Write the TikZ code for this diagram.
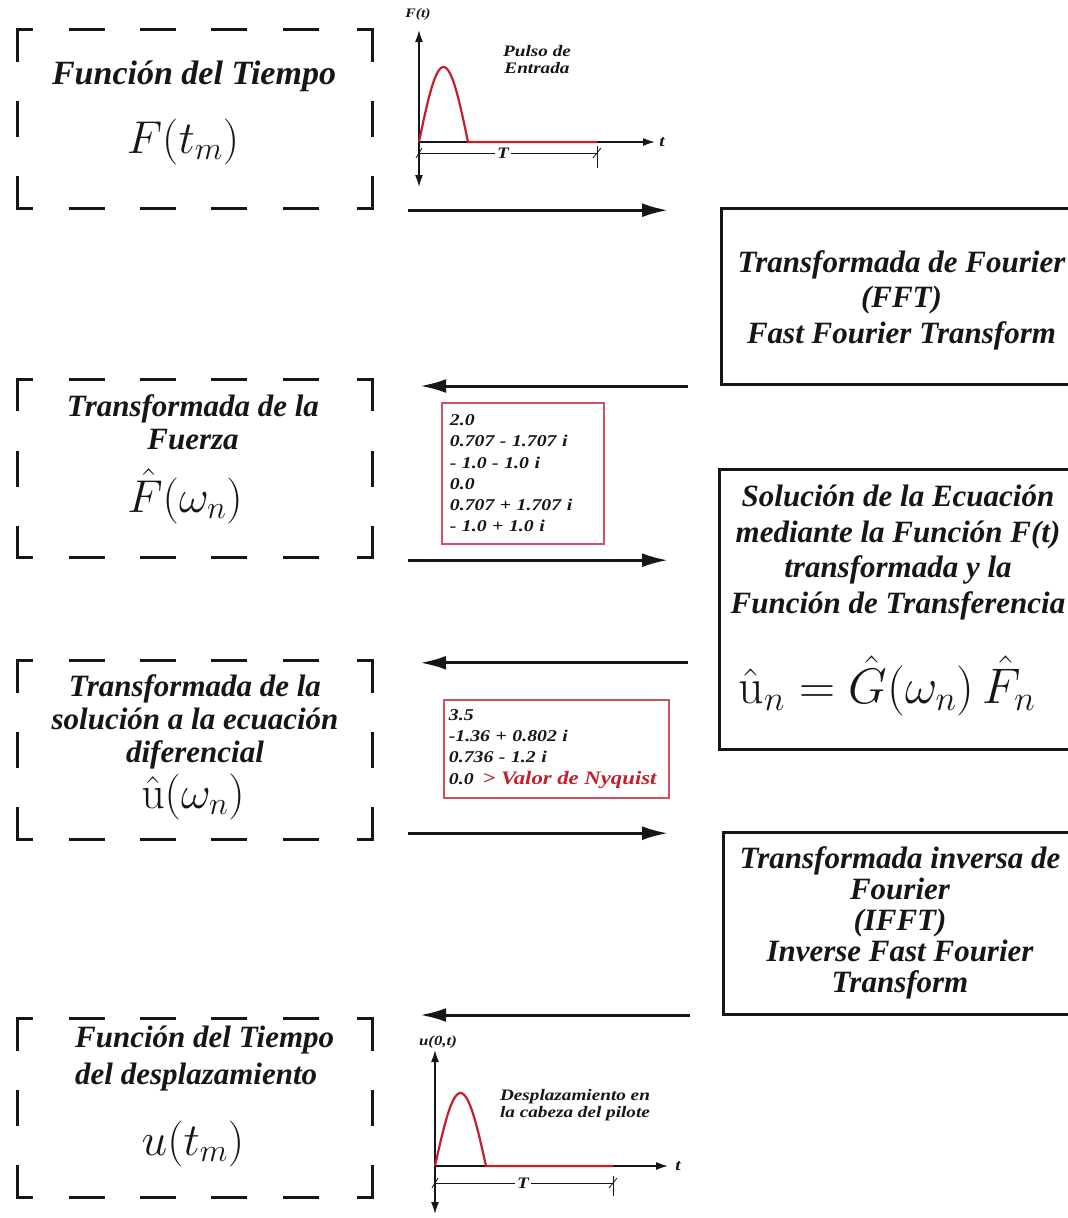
\RequirePackage{fix-cm}
\documentclass[tikz,border=0pt]{standalone}
\usepackage{amsmath}
\usepackage[no-math]{fontspec}
\setmainfont{Liberation Serif}
\newfontfamily\widefont[FakeStretch=1.2]{Liberation Serif}
\usepackage{xcolor}
\usepackage{tikz}
\usetikzlibrary{arrows.meta,positioning,calc}
\definecolor{fdink}{RGB}{22,22,22}
\definecolor{fdred}{RGB}{196,32,44}
\definecolor{fdbox}{RGB}{206,80,98}
\tikzset{
  side/.style={minimum width=354pt, minimum height=178pt, inner sep=0pt},
  brk/.style={draw=fdink, line width=2.8pt},
  proc/.style={draw=fdink, line width=3pt, inner sep=0pt, anchor=north west},
  ltxt/.style={align=center, inner sep=0pt, text=fdink,
    font=\fontsize{31}{33}\selectfont\bfseries\itshape},
  rtxt/.style={align=center, inner sep=0pt, text=fdink,
    font=\fontsize{31}{35.5}\selectfont\bfseries\itshape},
  bigmath/.style={inner sep=0pt, text=fdink, font=\fontsize{46}{50}\selectfont},
  vals/.style={draw=fdbox, line width=1.8pt, align=left, anchor=north west,
    inner xsep=8pt, text=fdink, font=\widefont\fontsize{16.5}{21.2}\selectfont\bfseries\itshape},
  flow/.style={-{Latex[length=26pt,width=14pt]}, draw=fdink, line width=3pt},
  ax/.style={draw=fdink, line width=1.6pt},
  axtip/.style={-{Latex[length=12pt,width=8pt]}},
  bothtip/.style={{Latex[length=12pt,width=8pt]}-{Latex[length=12pt,width=8pt]}},
  pulse/.style={draw=fdred, line width=2.2pt},
  dimline/.style={draw=fdink, line width=0.8pt},
  plotlbl/.style={inner sep=0pt, text=fdink, align=center,
    font=\widefont\fontsize{16}{17}\selectfont\bfseries\itshape}
}
\newcommand{\dashframe}[1]{%
  \draw[brk] ($(#1.north west)+(0,-32)$) -- (#1.north west) -- ++(15,0);
  \draw[brk] ($(#1.north east)+(-15,0)$) -- (#1.north east) -- ++(0,-32);
  \draw[brk] ($(#1.south west)+(0,32)$) -- (#1.south west) -- ++(15,0);
  \draw[brk] ($(#1.south east)+(-15,0)$) -- (#1.south east) -- ++(0,32);
  \draw[brk] ($(#1.west)+(0,-18)$) -- ++(0,36);
  \draw[brk] ($(#1.east)+(0,-18)$) -- ++(0,36);
  \foreach \f in {0.195,0.395,0.595,0.8}{
    \draw[brk] ($(#1.north west)!\f!(#1.north east)+(-18,0)$) -- ++(36,0);
    \draw[brk] ($(#1.south west)!\f!(#1.south east)+(-18,0)$) -- ++(36,0);
  }%
}

\begin{document}
\begin{tikzpicture}[x=1pt, y=1pt]
  \fill[white] (0,0) rectangle (1068,-1218);
  \useasboundingbox (0,0) rectangle (1068,-1218);

  % left column
  \node[side] (ft) at (195,-119) {};
  \node[side] (ff) at (195,-468.5) {};
  \node[side] (uw) at (195,-750) {};
  \node[side] (ut) at (195,-1108) {};
  \foreach \b in {ft,ff,uw,ut}{\dashframe{\b}}

  \node[ltxt, anchor=north, font=\fontsize{34}{36}\selectfont\bfseries\itshape] (ftT) at (194,-61) {Función del Tiempo};
  \node[bigmath, anchor=base] (ftM) at (183,-153) {$F(t_m)$};
  \node[ltxt, anchor=north] (ffT) at (193,-394) {Transformada de la\\Fuerza};
  \node[bigmath, anchor=base] (ffM) at (185,-512) {$\hat{F}(\omega_n)$};
  \node[ltxt, anchor=north] (uwT) at (195,-674) {Transformada de la\\solución a la ecuación\\diferencial};
  \node[bigmath, anchor=base] (uwM) at (193,-808) {$\hat{\mathrm{u}}(\omega_n)$};
  \node[ltxt, anchor=north west, align=left, font=\fontsize{31}{37}\selectfont\bfseries\itshape]
    (utT) at (75,-1026) {Función del Tiempo\\del desplazamiento};
  \node[bigmath, anchor=base] (utM) at (193,-1155) {$u(t_m)$};

  % right column
  \node[proc, minimum width=360pt, minimum height=176pt] (fft) at (720,-207) {};
  \node[rtxt, below=43pt of fft.north] (fftT) {Transformada de Fourier\\(FFT)\\Fast Fourier Transform};
  \node[proc, minimum width=357pt, minimum height=280pt] (sol) at (718,-468) {};
  \node[rtxt, below=17pt of sol.north] (solT)
    {Solución de la Ecuación\\mediante la Función F(t)\\transformada y la\\Función de Transferencia};
  \node[bigmath, anchor=base, font=\fontsize{50}{54}\selectfont] (solM) at (887,-703)
    {$\hat{\mathrm{u}}_n = \hat{G}(\omega_n)\,\hat{F}_n$};
  \node[proc, minimum width=353pt, minimum height=182pt] (ifft) at (722,-831) {};
  \node[rtxt, below=15pt of ifft.north, font=\fontsize{31}{31}\selectfont\bfseries\itshape] (ifftT)
    {Transformada inversa de\\Fourier\\(IFFT)\\Inverse Fast Fourier\\Transform};

  \draw[flow] ($(ft.south east)+(36,-2)$) -- ($(ft.south east -| fft.west)+(-52,-2)$);
  \draw[flow] ($(fft.south west)+(-32,0)$) -- ($(fft.south west -| ff.east)+(48,0)$);
  \draw[flow] ($(ff.south east)+(36,-2.5)$) -- ($(ff.south east -| sol.west)+(-50,-2.5)$);
  \draw[flow] ($(uw.north east -| sol.west)+(-30,-2)$) -- ($(uw.north east)+(48,-2)$);
  \draw[flow] ($(uw.south east)+(36,6)$) -- ($(uw.south east -| ifft.west)+(-54,6)$);
  \draw[flow] ($(ifft.south west)+(-32,1)$) -- ($(ifft.south west -| ut.east)+(48,1)$);

  \node[vals, minimum width=162pt, minimum height=141pt, text width=146pt] (fvals) at (441,-402)
    {2.0\\0.707 - 1.707 i\\- 1.0 - 1.0 i\\0.0\\0.707 + 1.707 i\\- 1.0 + 1.0 i};
  \node[vals, inner xsep=5pt, minimum width=225pt, minimum height=98pt, text width=215pt] (uvals) at (443,-699)
    {3.5\\-1.36 + 0.802 i\\0.736 - 1.2 i\\0.0\hspace{9pt}{\color{fdred}\fontsize{19}{21.2}\selectfont > Valor de Nyquist}};

  % input pulse
  \begin{scope}[shift={(419,-142)}]
    \draw[ax, bothtip] (0,-45) -- (0,112);
    \draw[ax, axtip] (0,0) -- (236,0);
    \draw[pulse] plot[domain=0:180, samples=40] ({49*\x/180},{75*sin(\x)}) -- (178,0);
    \draw[dimline] (1,-11) -- (178,-11);
    \draw[dimline] (178,-4) -- (178,-26);
    \draw[dimline] (-3,-16) -- (3,-6) (174,-16) -- (182,-6);
    \node[plotlbl, fill=white, inner xsep=2pt] (pT) at (84,-11) {T};
    \node[plotlbl, font=\widefont\fontsize{13}{14}\selectfont\bfseries\itshape] (pF) at (-1,128) {F(t)};
    \node[plotlbl] (pt) at (243,0) {t};
    \node[plotlbl] (pin) at (118,82) {Pulso de\\Entrada};
  \end{scope}

  % output pulse
  \begin{scope}[shift={(435,-1166)}]
    \draw[ax, bothtip] (0,-48) -- (0,116);
    \draw[ax, axtip] (0,0) -- (233,0);
    \draw[pulse] plot[domain=0:180, samples=40] ({51*\x/180},{73*sin(\x)}) -- (178,0);
    \draw[dimline] (1,-17) -- (178,-17);
    \draw[dimline] (178,-10) -- (178,-30);
    \draw[dimline] (-3,-22) -- (3,-12) (174,-22) -- (182,-12);
    \node[plotlbl, fill=white, inner xsep=2pt] (uT) at (88,-17) {T};
    \node[plotlbl, font=\widefont\fontsize{14}{15}\selectfont\bfseries\itshape] (uF) at (3,124) {u(0,t)};
    \node[plotlbl] (ut2) at (243,0) {t};
    \node[plotlbl] (uout) at (140,61) {Desplazamiento en\\la cabeza del pilote};
  \end{scope}
\end{tikzpicture}
\end{document}
